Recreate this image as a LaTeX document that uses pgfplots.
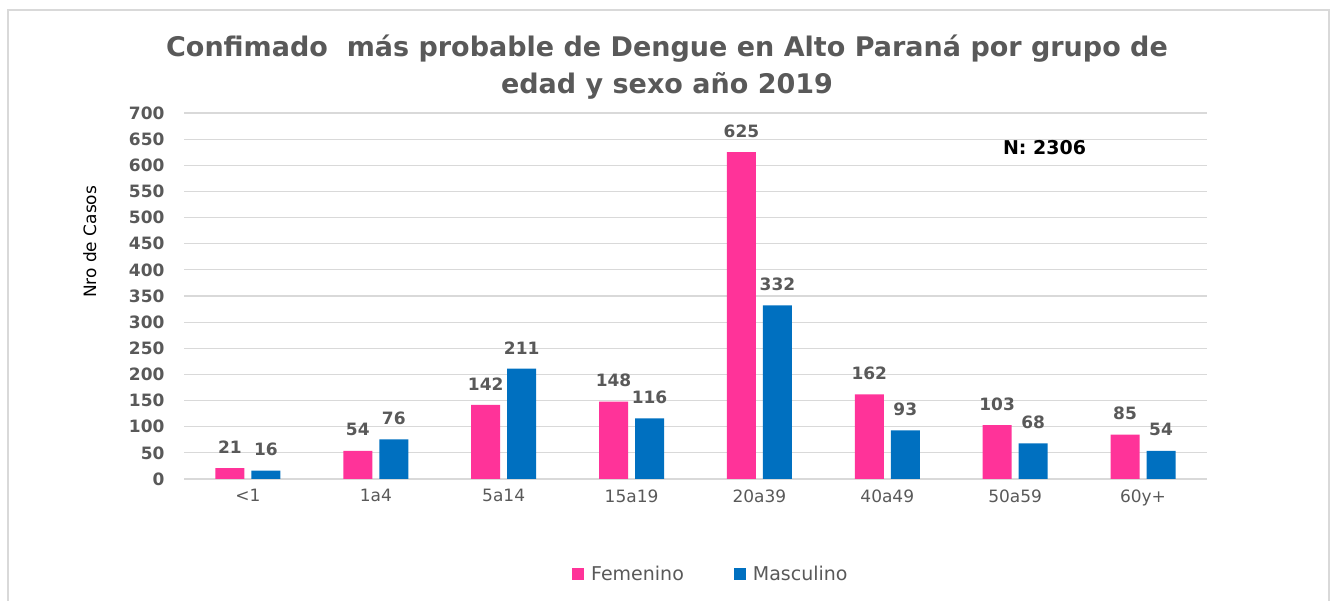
\documentclass[border=0pt]{standalone}
\usepackage{pgfplots}
\pgfplotsset{compat=1.18}
\usepackage{fontspec}
\setmainfont{DejaVu Sans}
\definecolor{fem}{HTML}{FF3399}
\definecolor{masc}{HTML}{0070C0}
\definecolor{txt}{HTML}{595959}
\definecolor{grd}{HTML}{D9D9D9}
\begin{document}
\begin{tikzpicture}
\path[use as bounding box] (0,0) rectangle (1330pt,601pt);
\draw[grd, line width=1.5pt] (8pt,-5pt) rectangle (1329pt,591pt);
\node[font=\fontsize{27}{37}\selectfont\bfseries, text=txt, align=center] at (667pt,534pt) {Confimado\ \ más probable de Dengue en Alto Paraná por grupo de\\edad y sexo año 2019};
\begin{axis}[
  at={(184pt,122pt)}, anchor=south west,
  scale only axis, width=1023pt, height=366pt,
  xmin=-0.5, xmax=7.5, ymin=0, ymax=700,
  ytick={0,50,...,700},
  xtick={0,...,7},
  xticklabels={{<1},1a4,5a14,15a19,20a39,40a49,50a59,60y+},
  ymajorgrids, grid style={grd, line width=1.2pt},
  axis line style={draw=none},
  major tick length=0pt,
  ybar=7pt, bar width=29pt,
  /pgf/number format/assume math mode=true,
  tick label style={font=\fontsize{17}{19}\selectfont, text=txt},
  yticklabel style={font=\fontsize{17}{19}\selectfont\bfseries, xshift=-16pt},
  xticklabel style={yshift=-7pt},
  ylabel={Nro de Casos},
  ylabel style={at={(axis description cs:-0.092,0.648)}, anchor=center, font=\fontsize{17}{19}\selectfont, text=black},
  nodes near coords,
  nodes near coords style={font=\fontsize{17}{19}\selectfont\bfseries, text=txt, yshift=11pt},
  legend style={at={(axis description cs:0.515,-0.26)}, anchor=center, draw=none, fill=none,
    legend columns=2, font=\fontsize{19}{21}\selectfont, text=txt,
    /tikz/every odd column/.append style={column sep=5pt},
    /tikz/every even column/.append style={column sep=48pt}},
  legend image code/.code={\fill[#1] (0pt,-6pt) rectangle (12pt,6pt);},
]
\addplot[fill=fem, draw=none] coordinates {(0,21) (1,54) (2,142) (3,148) (4,625) (5,162) (6,103) (7,85)};
\addplot[fill=masc, draw=none] coordinates {(0,16) (1,76) (2,211) (3,116) (4,332) (5,93) (6,68) (7,54)};
\legend{Femenino, Masculino}
\node[font=\fontsize{19}{21}\selectfont\bfseries, text=black] at (axis cs:6.23,633) {N: 2306};
\end{axis}
\end{tikzpicture}
\end{document}
